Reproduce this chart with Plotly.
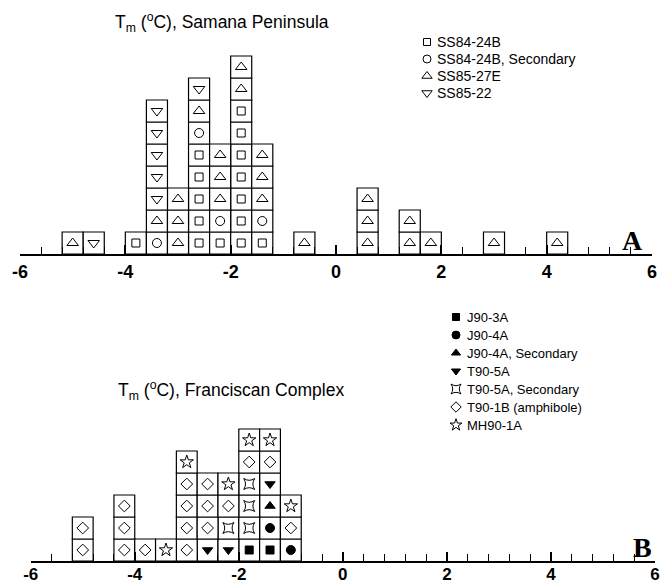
import plotly.graph_objects as go

W, H = 663, 585
BIN_W = 0.4

# ---------------- Panel A data (bin centres, one entry per inclusion) ----------------
a_names = ["SS84-24B", "SS84-24B, Secondary", "SS85-27E", "SS85-22"]
a_ss84_24b = [-3.8, -2.6, -2.6, -2.6, -2.6, -2.6, -2.2,
              -1.8, -1.8, -1.8, -1.8, -1.8, -1.8, -1.8, -1.4]
a_ss84_24b_sec = [-3.4, -2.6, -2.2, -1.4]
a_ss85_27e = [-5.0, -3.4, -3.0, -3.0, -3.0, -2.6, -2.2, -2.2, -2.2,
              -1.8, -1.8, -1.4, -1.4, -1.4, -0.6, 0.6, 0.6, 0.6,
              1.4, 1.4, 1.8, 3.0, 4.2]
a_ss85_22 = [-4.6, -3.4, -3.4, -3.4, -3.4, -3.4, -2.6]
a_series = [a_ss84_24b, a_ss84_24b_sec, a_ss85_27e, a_ss85_22]

# ---------------- Panel B data ----------------
b_names = ["J90-3A", "J90-4A", "J90-4A, Secondary", "T90-5A",
           "T90-5A, Secondary", "T90-1B (amphibole)", "MH90-1A"]
b_j90_3a = [-1.8, -1.4]
b_j90_4a = [-1.4, -1.0]
b_j90_4a_sec = [-1.4]
b_t90_5a = [-2.6, -2.2, -1.4]
b_t90_5a_sec = [-2.2, -1.8, -1.8, -1.8]
b_t90_1b = [-5.0, -5.0, -4.2, -4.2, -4.2, -3.8, -3.0, -3.0, -3.0, -3.0,
            -2.6, -2.6, -2.6, -2.2, -1.8, -1.4, -1.0]
b_mh90_1a = [-3.4, -3.0, -2.2, -1.8, -1.4, -1.0]
b_series = [b_j90_3a, b_j90_4a, b_j90_4a_sec, b_t90_5a, b_t90_5a_sec,
            b_t90_1b, b_mh90_1a]

tick_vals = [-6, -4, -2, 0, 2, 4, 6]
tick_text = ["-6", "-4", "-2", "0", "2", "4", "6"]

# ---------------- styles ----------------
a_styles = [dict(symbol="square-open", size=8),
            dict(symbol="circle-open", size=9),
            dict(symbol="triangle-up-open", size=10),
            dict(symbol="triangle-down-open", size=10)]
b_styles = [dict(symbol="square", size=8),
            dict(symbol="circle", size=9),
            dict(symbol="triangle-up", size=9),
            dict(symbol="triangle-down", size=9),
            dict(symbol="star-square-open", size=10),
            dict(symbol="diamond-open", size=9),
            dict(symbol="star-open", size=10)]


def stack(series):
    counts = {}
    out = []
    for vals in series:
        xs, ys = [], []
        for v in vals:
            k = round(v, 2)
            r = counts.get(k, 0)
            counts[k] = r + 1
            xs.append(v)
            ys.append(r)
        out.append((xs, ys))
    return out


fig = go.Figure()


def add_panel(series, styles, xa, ya):
    st = stack(series)
    bx = [x for xs, _ in st for x in xs]
    by = [y for _, ys in st for y in ys]
    fig.add_trace(go.Bar(x=bx, y=[1] * len(bx), base=by, width=BIN_W,
                         marker=dict(color="white", line=dict(color="black", width=1.2)),
                         xaxis=xa, yaxis=ya, showlegend=False, hoverinfo="skip"))
    for (xs, ys), s in zip(st, styles):
        fig.add_trace(go.Scatter(x=xs, y=[y + 0.5 for y in ys], mode="markers",
                                 marker=dict(symbol=s["symbol"], size=s["size"],
                                             color="black", line=dict(color="black", width=1)),
                                 xaxis=xa, yaxis=ya, showlegend=False, hoverinfo="skip"))


add_panel(a_series, a_styles, "x", "y")
add_panel(b_series, b_styles, "x2", "y2")


# legends drawn on a pixel overlay axis
def add_legend(names, styles, x_sym, x_txt, y0, dy, fsize):
    for i, (n, s) in enumerate(zip(names, styles)):
        yy = y0 + i * dy
        fig.add_trace(go.Scatter(x=[x_sym], y=[yy], mode="markers",
                                 marker=dict(symbol=s["symbol"], size=s["size"] - 1,
                                             color="black", line=dict(color="black", width=1)),
                                 xaxis="x3", yaxis="y3", showlegend=False, hoverinfo="skip"))
        fig.add_annotation(x=x_txt, y=yy, xref="x3", yref="y3", text=n, showarrow=False,
                           xanchor="left", yanchor="middle",
                           font=dict(family="Liberation Sans", size=fsize, color="black"))


add_legend(a_names, a_styles, 427, 435, 42, 17, 14)
add_legend(b_names, b_styles, 456, 465, 317, 18, 13)

title_font = dict(family="Liberation Sans", size=17.5, color="black")
fig.add_annotation(x=113, y=22, xref="x3", yref="y3",
                   text="T<sub>m</sub> (<sup>o</sup>C), Samana Peninsula",
                   showarrow=False, xanchor="left", yanchor="middle", font=title_font)
fig.add_annotation(x=116, y=390, xref="x3", yref="y3",
                   text="T<sub>m</sub> (<sup>o</sup>C), Franciscan Complex",
                   showarrow=False, xanchor="left", yanchor="middle", font=title_font)
fig.add_annotation(x=632, y=240, xref="x3", yref="y3", text="<b>A</b>", showarrow=False,
                   font=dict(family="Liberation Serif", size=28, color="black"))
fig.add_annotation(x=642, y=547, xref="x3", yref="y3", text="<b>B</b>", showarrow=False,
                   font=dict(family="Liberation Serif", size=28, color="black"))

minor_vals = [round(-6 + 0.4 * k, 2) for k in range(31)]


def xaxis_style(domain, anchor, standoff, fsize):
    return dict(domain=domain, anchor=anchor, range=[-6, 6], showline=True,
                linecolor="black", linewidth=2, showgrid=False, zeroline=False,
                tickmode="array", tickvals=tick_vals, ticktext=tick_text,
                ticks="inside", ticklen=9, tickwidth=1.5, tickcolor="black",
                ticklabelstandoff=standoff, automargin=False,
                tickfont=dict(family="Liberation Sans", size=fsize, color="black", weight="bold"),
                minor=dict(tickmode="array", tickvals=minor_vals, ticks="inside",
                           ticklen=7, tickwidth=1, tickcolor="black", showgrid=False))


ya_px, yb_px = 254, 561
fig.update_layout(
    width=W, height=H, margin=dict(l=0, r=0, t=0, b=0, autoexpand=False),
    paper_bgcolor="white", plot_bgcolor="rgba(0,0,0,0)",
    barmode="overlay", showlegend=False,
    xaxis=xaxis_style([20 / W, 652 / W], "y", 0, 18),
    yaxis=dict(domain=[1 - ya_px / H, 1 - (ya_px - 220) / H], range=[0, 10], visible=False),
    xaxis2=xaxis_style([30.7 / W, 655 / W], "y2", -3, 17),
    yaxis2=dict(domain=[1 - yb_px / H, 1 - (yb_px - 154) / H], range=[0, 7], visible=False),
    xaxis3=dict(domain=[0, 1], range=[0, W], anchor="y3", visible=False),
    yaxis3=dict(domain=[0, 1], range=[H, 0], anchor="x3", visible=False),
)

fig.write_html("out.html", config={"displayModeBar": False},
               post_script="document.body.style.margin='0';")
